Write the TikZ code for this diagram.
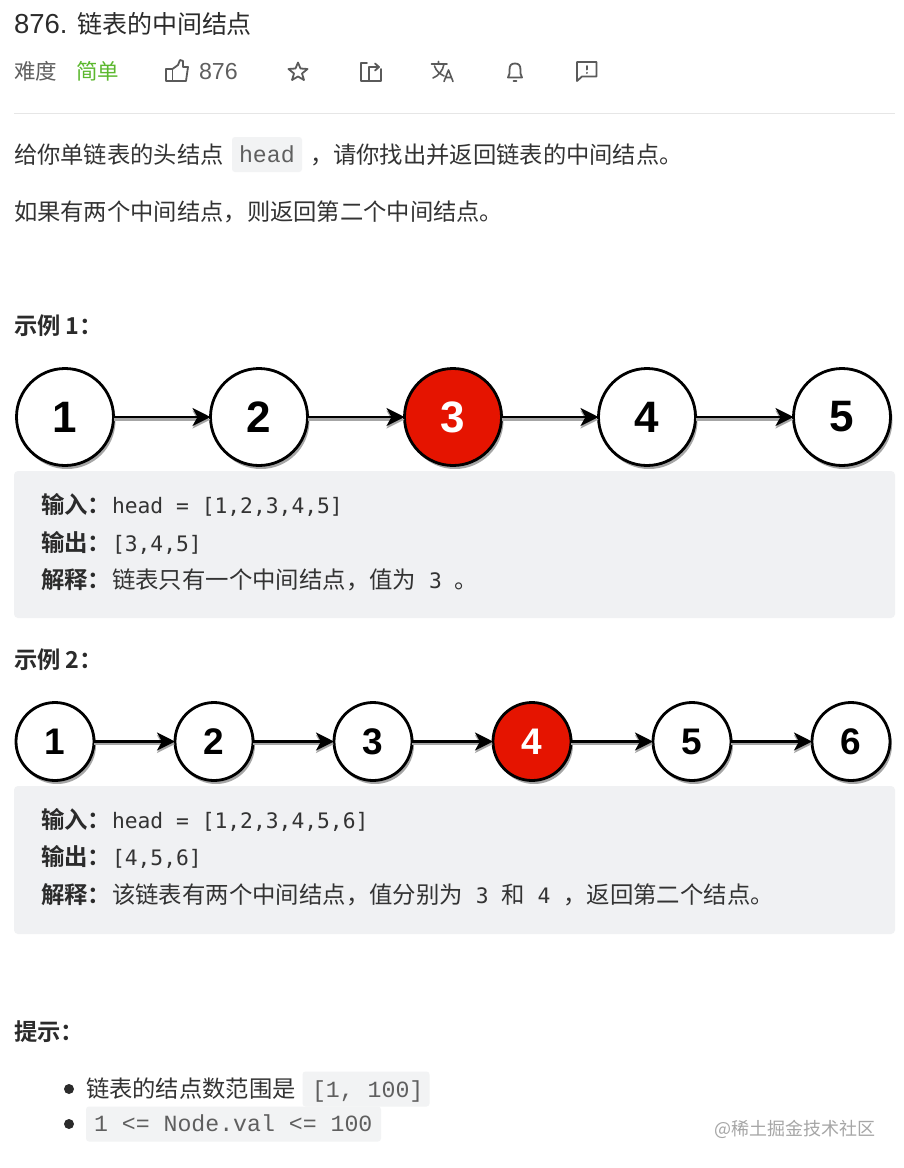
\documentclass[tikz,border=0pt]{standalone}
\usepackage{fontspec}
\usetikzlibrary{arrows.meta,shadows}
\setmainfont{Liberation Sans}
\newfontfamily\cjk{Noto Sans CJK SC}
\newfontfamily\cjkbold{Noto Sans CJK SC Bold}
\newfontfamily\monoa{DejaVu Sans Mono}
\newfontfamily\monob{Liberation Mono}
\newcommand{\fs}[1]{\fontsize{#1pt}{#1pt}\selectfont}
\newcommand{\cd}[1]{{\monoa\fs{21.3}\ #1\ }}
\definecolor{ink}{HTML}{2B2B2B}
\definecolor{body}{HTML}{333333}
\definecolor{muted}{HTML}{5F5F5F}
\definecolor{easy}{HTML}{5CB82E}
\definecolor{panel}{HTML}{F0F1F3}
\definecolor{chip}{HTML}{F2F3F4}
\definecolor{rule}{HTML}{E6E6E6}
\definecolor{hot}{HTML}{E51400}
\definecolor{iconc}{HTML}{5A5A5A}
\tikzset{
  txt/.style={anchor=base west,inner sep=0pt,outer sep=0pt,text=body},
  body23/.style={txt,font=\cjk\fs{23.3}},
  head23/.style={txt,font=\cjkbold\fs{23.3},text=ink},
  label23/.style={txt,font=\cjkbold\fs{23.4},text=ink},
  code21/.style={txt,font=\monoa\fs{21.3}},
  codeb/.style={txt,font=\monob\fs{23.2},text=muted},
  panelbox/.style={fill=panel,draw=none,rounded corners=4pt},
  chipbox/.style={fill=chip,draw=none,rounded corners=3pt},
  listnode/.style={circle,draw=black,line width=2.8pt,fill=white,inner sep=0pt,outer sep=0pt,text=black,
    drop shadow={shadow xshift=2pt,shadow yshift=-3.5pt,fill=black,opacity=0.35}},
  big/.style={listnode,minimum size=97pt,font=\bfseries\fs{44}},
  small/.style={listnode,minimum size=78pt,font=\bfseries\fs{37}},
  mid/.style={fill=hot,text=white},
  link/.style={draw=black,line width=2.6pt,-{Stealth[length=18pt,width=18pt,inset=5pt]}},
  linkshadow/.style={draw=black!35,line width=2.6pt,-{Stealth[length=18pt,width=18pt,inset=5pt]}},
  icon/.style={draw=iconc,line width=1.8pt,line join=round,line cap=round,fill=none},
  bulletdot/.style={circle,fill=ink,minimum size=10pt,inner sep=0pt},
}
\begin{document}
\begin{tikzpicture}[x=1pt,y=-1pt]
\useasboundingbox[fill=white] (0,0) rectangle (904,1168);
% header
\node[txt,font=\fs{27.5},text=ink] (num) at (14,33) {876.};
\node[txt,font=\cjk\fs{25},text=ink] (title) at (77,33) {链表的中间结点};
\node[txt,font=\cjk\fs{21.5},text=muted] (diff) at (14,79) {难度};
\node[txt,font=\cjk\fs{21.5},text=easy] (easy) at (76,79) {简单};
\node[txt,font=\fs{23.2},text=muted] (likes) at (199,79) {876};
% thumb
\draw[icon] (166,69) rectangle (172.5,81);
\draw[icon] (172.5,69) -- (178,65) -- (180,60) -- (183,61) -- (183,67) -- (188,67) -- (186,81) -- (172.5,81);
% star
\draw[icon] (298,62.5) -- (300.5,68.5) -- (307.5,69) -- (302,73.5) -- (304,80) -- (298,76.5) -- (292,80) -- (294,73.5) -- (288.5,69) -- (295.5,68.5) -- cycle;
% share
\draw[icon] (367,63) -- (361,63) -- (361,81) -- (381,81) -- (381,69);
\draw[icon] (369,80) -- (369,67) -- (378,67);
\draw[icon] (375,63.5) -- (379,67) -- (375,70.5);
% translate
\draw[icon,line width=1.6pt] (431.5,64) -- (447,64) (438.5,61.5) -- (438.5,64) (444,64) .. controls (443,71) and (438,76) .. (433,78) (434.5,66) .. controls (436,71) and (440,74) .. (444,76);
\draw[icon,line width=1.6pt] (444,81.5) -- (448.5,70) -- (453,81.5) (445.8,77.5) -- (451.2,77.5);
% bell
\draw[icon] (508,77.5) .. controls (510,75) and (509.5,72) .. (509.5,70) .. controls (509.5,65.5) and (511,63.5) .. (515,63.5) .. controls (519,63.5) and (520.5,65.5) .. (520.5,70) .. controls (520.5,72) and (520,75) .. (522,77.5) -- cycle;
\draw[icon] (513.5,81) -- (516.5,81);
% report
\draw[icon] (577,62) -- (596.5,62) -- (596.5,76.5) -- (582,76.5) -- (577,81) -- cycle;
\draw[icon,line width=2pt] (586.5,66) -- (586.5,69.5) (586.5,72.8) -- (586.5,73);
\draw[draw=rule,line width=1pt] (14,113) -- (895,113);
% intro
\node[body23] (i1a) at (14,163) {给你单链表的头结点};
\node[chipbox,minimum width=70pt,minimum height=35pt,inner sep=0pt] (headchip) at (267,154.5) {};
\node[codeb] (headcode) at (239,162) {head};
\node[body23] (i1b) at (310,163) {，请你找出并返回链表的中间结点。};
\node[body23] (i2) at (14,220) {如果有两个中间结点，则返回第二个中间结点。};
% example 1
\node[head23] (ex1) at (14,334) {示例 1：};
\node[big] (a1) at (65,417) {1};
\node[big] (a2) at (259,417) {2};
\node[big,mid] (a3) at (453,417) {3};
\node[big] (a4) at (647,417) {4};
\node[big] (a5) at (842,417) {5};
\foreach \p/\q in {a1/a2,a2/a3,a3/a4,a4/a5}{
  \draw[linkshadow] ([yshift=-2.5pt]\p.east) -- ([yshift=-2.5pt]\q.west);
  \draw[link] (\p) -- (\q);
}
\node[panelbox,minimum width=881pt,minimum height=147pt,inner sep=0pt] (p1) at (454.5,544.5) {};
\node[label23] (p1a) at (41,513) {输入：};
\node[code21] (p1av) at (112,513) {head = [1,2,3,4,5]};
\node[label23] (p1b) at (41,551) {输出：};
\node[code21] (p1bv) at (112,551) {[3,4,5]};
\node[label23] (p1c) at (41,588) {解释：};
\node[body23,font=\cjk\fs{23.4}] (p1cv) at (112,588) {链表只有一个中间结点，值为\cd{3}。};
% example 2
\node[head23] (ex2) at (14,668) {示例 2：};
\node[small] (b1) at (55,741.5) {1};
\node[small] (b2) at (214,741.5) {2};
\node[small] (b3) at (373,741.5) {3};
\node[small,mid] (b4) at (532,741.5) {4};
\node[small] (b5) at (692,741.5) {5};
\node[small] (b6) at (851,741.5) {6};
\foreach \p/\q in {b1/b2,b2/b3,b3/b4,b4/b5,b5/b6}{
  \draw[linkshadow] ([yshift=-2.5pt]\p.east) -- ([yshift=-2.5pt]\q.west);
  \draw[link] (\p) -- (\q);
}
\node[panelbox,minimum width=881pt,minimum height=148pt,inner sep=0pt] (p2) at (454.5,860) {};
\node[label23] (p2a) at (41,828) {输入：};
\node[code21] (p2av) at (112,828) {head = [1,2,3,4,5,6]};
\node[label23] (p2b) at (41,865) {输出：};
\node[code21] (p2bv) at (112,865) {[4,5,6]};
\node[label23] (p2c) at (41,903) {解释：};
\node[body23,font=\cjk\fs{23.4}] (p2cv) at (112,903) {该链表有两个中间结点，值分别为\cd{3}和\cd{4}，返回第二个结点。};
% hints
\node[head23] (hint) at (14,1040) {提示：};
\node[bulletdot] (d1) at (69,1089) {};
\node[bulletdot] (d2) at (69,1124) {};
\node[body23] (h1) at (86,1097) {链表的结点数范围是};
\node[chipbox,minimum width=127pt,minimum height=35pt,inner sep=0pt] (c1) at (366,1089) {};
\node[codeb] (c1t) at (312,1097) {[1, 100]};
\node[chipbox,minimum width=295pt,minimum height=35pt,inner sep=0pt] (c2) at (233.5,1124) {};
\node[codeb] (c2t) at (94,1131) {1 <= Node.val <= 100};
\node[txt,font=\cjk\fs{18},text=black!35] (wm) at (714,1135) {@稀土掘金技术社区};
\end{tikzpicture}
\end{document}
